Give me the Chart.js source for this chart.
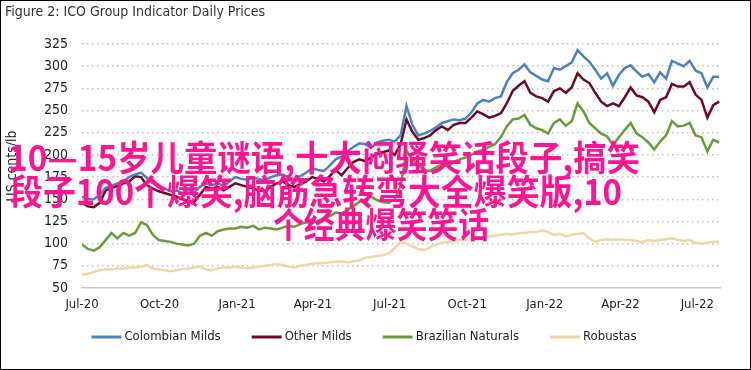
<!DOCTYPE html>
<html>
<head>
<meta charset="utf-8">
<script src="https://cdn.jsdelivr.net/npm/chart.js@4.4.1/dist/chart.umd.min.js"></script>
<style>
  html, body { margin: 0; padding: 0; background: #fff; }
  #wrap { width: 751px; height: 370px; position: relative; }
</style>
</head>
<body>
<div id="wrap"><canvas id="icoChart" width="751" height="370"></canvas></div>
<script>
// ICO group indicator prices, one reading per week from 1 Jul 2020 (US cents/lb)
const startDate = "2020-07-01";
const stepDays = 7;

const colombianMilds = [
  153, 150, 150, 155, 163, 165, 168, 170, 175, 178, 180, 174, 168, 165, 162, 159, 160, 157, 160, 158,
  164, 168, 166, 168, 165, 170, 175, 173, 172, 174, 173, 171, 175, 177, 178, 175, 172, 176, 180, 185,
  183, 182, 188, 195, 198, 204, 209, 213, 212, 208, 214, 216, 217, 215, 222, 255, 234, 222, 224, 227,
  231, 236, 238, 240, 239, 241, 248, 258, 262, 260, 264, 266, 282, 292, 296, 302, 293, 289, 285, 283,
  298, 296, 300, 304, 318, 311, 305, 296, 286, 292, 278, 290, 298, 301, 294, 288, 291, 282, 293, 286,
  306, 303, 300, 306, 295, 292, 276, 288, 288
];
const otherMilds = [
  146, 142, 141, 146, 160, 163, 165, 168, 170, 176, 175, 166, 162, 159, 157, 155, 153, 150, 148, 147,
  155, 164, 162, 164, 160, 164, 168, 166, 164, 162, 160, 159, 164, 168, 170, 166, 164, 167, 170, 175,
  173, 170, 176, 183, 177, 185, 192, 195, 193, 197, 201, 203, 205, 200, 212, 240, 226, 217, 219, 222,
  228, 232, 228, 234, 236, 236, 242, 249, 246, 242, 244, 247, 258, 272, 278, 283, 270, 266, 264, 260,
  272, 275, 270, 276, 292, 285, 281, 270, 260, 255, 258, 255, 265, 276, 267, 265, 260, 248, 262, 265,
  280, 277, 277, 282, 268, 262, 242, 256, 260
];
const brazilianNaturals = [
  99, 94, 92, 96, 104, 112, 106, 112, 109, 112, 124, 121, 110, 104, 103, 102, 100, 99, 98, 100,
  109, 112, 109, 114, 116, 117, 117, 119, 118, 120, 116, 118, 117, 116, 118, 120, 119, 122, 124, 123,
  126, 128, 131, 135, 134, 138, 142, 147, 150, 153, 149, 147, 146, 150, 165, 205, 195, 188, 183, 182,
  186, 189, 187, 192, 195, 197, 200, 204, 206, 209, 212, 220, 232, 240, 241, 245, 234, 230, 228, 224,
  236, 240, 233, 238, 258, 249, 236, 230, 224, 221, 211, 220, 228, 236, 224, 220, 214, 206, 215, 222,
  238, 232, 233, 236, 222, 220, 204, 217, 214
];
const robustas = [
  65, 66, 68, 70, 71, 71, 72, 72, 73, 73, 74, 76, 72, 71, 70, 69, 70, 71, 72, 73,
  74, 71, 70, 72, 73, 73, 74, 73, 72, 73, 74, 75, 76, 77, 76, 74, 73, 75, 76, 77,
  78, 78, 79, 80, 80, 79, 80, 81, 84, 85, 86, 87, 89, 95, 102, 100, 97, 94, 93, 96,
  99, 101, 102, 103, 104, 104, 106, 105, 107, 108, 109, 110, 111, 110, 112, 112, 113, 113, 115, 113,
  110, 111, 108, 110, 111, 112, 106, 102, 104, 105, 104, 105, 104, 104, 103, 102, 104, 103, 104, 105,
  106, 104, 103, 104, 101, 100, 101, 102, 102
];

const seriesNames = ["Colombian Milds", "Other Milds", "Brazilian Naturals", "Robustas"];
const seriesColors = ["#4f81bd", "#6c0a26", "#6b9a3a", "#eed7a6"];

// tick marks: days after 1 Jul 2020
const tickDays = [0, 92, 184, 274, 365, 457, 549, 639, 730];
const tickLabels = ["Jul-20", "Oct-20", "Jan-21", "Apr-21", "Jul-21", "Oct-21", "Jan-22", "Apr-22", "Jul-22"];

const chartTitle = "Figure 2: ICO Group Indicator Daily Prices";
const yTitle = "US cents/lb";
const overlayLines = [
  "10—15岁儿童谜语,十大闷骚笑话段子,搞笑",
  "段子100个爆笑,脑筋急转弯大全爆笑版,10",
  "个经典爆笑笑话"
];

const FONT = "'Liberation Sans Narrow', 'DejaVu Sans Condensed', 'Liberation Sans', sans-serif";
const CJK_FONT = "'Noto Sans CJK SC', 'Noto Sans', sans-serif";

function toPoints(values) {
  return values.map((v, i) => ({ x: i * stepDays, y: v }));
}

const allSeries = [colombianMilds, otherMilds, brazilianNaturals, robustas];

// draw a line of text squeezed/stretched to a given width
function fitText(ctx, text, x, y, width) {
  const w = ctx.measureText(text).width;
  ctx.save();
  ctx.translate(x, y);
  ctx.scale(width / w, 1);
  ctx.fillText(text, 0, 0);
  ctx.restore();
}

// ----------------------------------------------------
// EXTRA DRAWING: frame, title, legend, pink overlay text
// ----------------------------------------------------
const decorPlugin = {
  id: "decor",
  afterDraw(chart) {
    const ctx = chart.ctx;
    ctx.save();

    // outer frame
    ctx.strokeStyle = "#000";
    ctx.lineWidth = 1;
    ctx.strokeRect(0.5, 0.5, chart.width - 1, chart.height - 1);

    // title
    ctx.fillStyle = "#333";
    ctx.font = "14px " + FONT;
    ctx.textAlign = "left";
    ctx.textBaseline = "middle";
    ctx.fillText(chartTitle, 5, 12);

    // legend
    ctx.font = "13px " + FONT;
    const lineLen = 30, textGap = 3, itemGap = 31;
    const widths = chart.data.datasets.map(ds => lineLen + textGap + ctx.measureText(ds.label).width);
    const total = widths.reduce((a, b) => a + b, 0) + itemGap * (widths.length - 1);
    let x = 364 - total / 2;
    const ly = 337;
    chart.data.datasets.forEach((ds, i) => {
      ctx.strokeStyle = ds.borderColor;
      ctx.lineWidth = 3;
      ctx.beginPath();
      ctx.moveTo(x, ly);
      ctx.lineTo(x + lineLen, ly);
      ctx.stroke();
      ctx.fillStyle = "#222";
      ctx.fillText(ds.label, x + lineLen + textGap, ly);
      x += widths[i] + itemGap;
    });

    // overlay text
    ctx.fillStyle = "#ff1493";
    ctx.font = "bold 35px " + CJK_FONT;
    fitText(ctx, overlayLines[0], 8, 158, 632);
    fitText(ctx, overlayLines[1], 10, 192, 612);
    fitText(ctx, overlayLines[2], 273, 225, 216);

    ctx.restore();
  }
};

const ctx = document.getElementById("icoChart").getContext("2d");

const icoChart = new Chart(ctx, {
  type: "line",
  data: {
    datasets: allSeries.map((vals, i) => ({
      label: seriesNames[i],
      data: toPoints(vals),
      borderColor: seriesColors[i],
      backgroundColor: seriesColors[i],
      borderWidth: 2.5,
      pointRadius: 0,
      tension: 0,
      fill: false
    }))
  },
  options: {
    responsive: false,
    animation: false,
    layout: {
      padding: { left: 0, right: 31, top: 44, bottom: 52 }
    },
    plugins: {
      legend: { display: false },
      title: { display: false },
      tooltip: { enabled: false }
    },
    scales: {
      x: {
        type: "linear",
        min: 0,
        max: 757,
        afterBuildTicks: axis => {
          axis.ticks = tickDays.map(v => ({ value: v }));
        },
        afterFit: axis => { axis.height = 30; },
        grid: { display: false, drawTicks: false },
        border: { display: true, color: "#c8c8c8", width: 1.5 },
        ticks: {
          autoSkip: false,
          maxRotation: 0,
          padding: 9,
          color: "#222",
          font: { family: FONT, size: 13 },
          callback: v => tickLabels[tickDays.indexOf(v)] || ""
        }
      },
      y: {
        min: 50,
        max: 325,
        afterFit: axis => { axis.width = 82; },
        grid: {
          drawTicks: false,
          color: c => (c.tick && c.tick.value === 50) ? "rgba(0,0,0,0)" : "#c2c2c2",
          lineWidth: 1.5,
          borderDash: [1.5, 3.5]
        },
        border: { display: false, dash: [1.5, 3.5], dashOffset: 0 },
        ticks: {
          stepSize: 25,
          padding: 14,
          color: "#222",
          font: { family: FONT, size: 14 }
        },
        title: {
          display: true,
          text: yTitle,
          color: "#222",
          font: { family: FONT, size: 14 },
          padding: { top: 4, bottom: 0 }
        }
      }
    }
  },
  plugins: [decorPlugin]
});
</script>
</body>
</html>
